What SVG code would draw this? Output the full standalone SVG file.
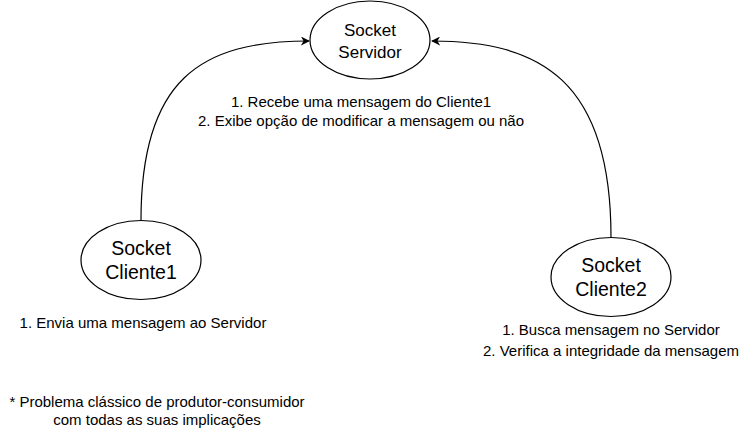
<svg xmlns="http://www.w3.org/2000/svg" width="754" height="429" viewBox="0 0 754 429">
<style>
.node{fill:#fff;stroke:#000;stroke-width:1.2}
.edge{fill:none;stroke:#000;stroke-width:1.2}
text{font-family:"Liberation Sans",Arial,Helvetica,sans-serif;fill:#000;text-anchor:middle}
.big{font-size:17px}
.big2{font-size:19.5px}
.lbl{font-size:15px}
</style>
<defs>
<marker id="arr" viewBox="0 0 10 10" refX="9" refY="5" markerWidth="9" markerHeight="9" markerUnits="userSpaceOnUse" orient="auto">
<path d="M0,0 L10,5 L0,10 L3,5 Z" fill="#000"/>
</marker>
</defs>
<g id="connectors">
<path class="edge" d="M141,220 C141,80 200,41 309,41" marker-end="url(#arr)"/>
<path class="edge" d="M611,237 C611,80 540,41 432,41" marker-end="url(#arr)"/>
</g>
<g id="servidor">
<ellipse class="node" cx="370" cy="40" rx="60" ry="39"/>
<text class="big" x="370" y="36">Socket</text>
<text class="big" x="370" y="58">Servidor</text>
</g>
<g id="cliente1">
<ellipse class="node" cx="141" cy="260" rx="60" ry="39.5"/>
<text class="big2" x="141" y="255">Socket</text>
<text class="big2" x="141" y="279">Cliente1</text>
</g>
<g id="cliente2">
<ellipse class="node" cx="611" cy="277" rx="60" ry="39.5"/>
<text class="big2" x="611" y="272">Socket</text>
<text class="big2" x="611" y="296">Cliente2</text>
</g>
<g id="labels">
<text class="lbl" x="361" y="107">1. Recebe uma mensagem do Cliente1</text>
<text class="lbl" x="361" y="125.5">2. Exibe opção de modificar a mensagem ou não</text>
<text class="lbl" x="143" y="328">1. Envia uma mensagem ao Servidor</text>
<text class="lbl" x="611" y="335">1. Busca mensagem no Servidor</text>
<text class="lbl" x="611" y="356">2. Verifica a integridade da mensagem</text>
<text class="lbl" x="157" y="407">* Problema clássico de produtor-consumidor</text>
<text class="lbl" x="157" y="425">com todas as suas implicações</text>
</g>
</svg>
